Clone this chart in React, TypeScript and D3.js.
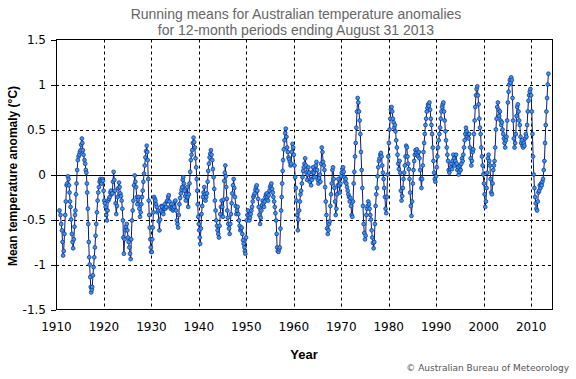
import React from "react";
import * as d3 from "d3";

// Decimal year at the end of each 12-month period (sampled read-off of the chart)
const years = [
  1910.63,1910.85,1911.0,1911.15,1911.27,1911.4,1911.52,1911.69,1911.85,1911.97,
  1912.12,1912.25,1912.4,1912.54,1912.65,1912.75,1912.86,1912.96,1913.1,1913.24,
  1913.38,1913.52,1913.66,1913.8,1913.9,1914.0,1914.12,1914.23,1914.36,1914.5,
  1914.65,1914.8,1914.92,1915.07,1915.2,1915.35,1915.45,1915.56,1915.7,1915.9,
  1916.05,1916.18,1916.3,1916.4,1916.48,1916.6,1916.7,1916.8,1916.9,1917.0,
  1917.11,1917.22,1917.32,1917.43,1917.54,1917.68,1917.82,1917.96,1918.1,1918.24,
  1918.38,1918.52,1918.66,1918.8,1918.94,1919.08,1919.23,1919.36,1919.5,1919.65,
  1919.79,1919.93,
  1920.07,1920.2,1920.35,1920.5,1920.63,1920.78,1920.92,1921.06,1921.2,1921.34,
  1921.48,1921.62,1921.76,1921.9,1922.04,1922.18,1922.32,1922.46,1922.6,1922.75,
  1922.89,1923.03,1923.17,1923.31,1923.45,1923.59,1923.73,1923.87,1924.0,1924.1,
  1924.2,1924.35,1924.5,1924.65,1924.8,1924.93,1925.07,1925.21,1925.35,1925.49,
  1925.63,1925.76,1925.9,1926.05,1926.2,1926.34,1926.48,1926.62,1926.76,1926.9,
  1927.04,1927.18,1927.32,1927.46,1927.6,1927.74,1927.88,1928.02,1928.17,1928.31,
  1928.45,1928.59,1928.73,1928.87,1929.01,1929.12,1929.22,1929.33,1929.43,1929.54,
  1929.65,1929.76,1929.86,1929.97,
  1930.07,1930.18,1930.28,1930.42,1930.56,1930.7,1930.84,1930.98,1931.13,1931.27,
  1931.41,1931.55,1931.69,1931.83,1931.97,1932.11,1932.25,1932.39,1932.53,1932.67,
  1932.82,1932.96,1933.1,1933.24,1933.38,1933.52,1933.66,1933.8,1933.94,1934.08,
  1934.23,1934.37,1934.5,1934.65,1934.8,1934.93,1935.07,1935.21,1935.35,1935.49,
  1935.63,1935.77,1935.9,1936.05,1936.2,1936.34,1936.48,1936.6,1936.7,1936.84,
  1936.97,1937.11,1937.25,1937.39,1937.53,1937.64,1937.75,1937.89,1938.03,1938.17,
  1938.3,1938.45,1938.6,1938.73,1938.87,1939.01,1939.15,1939.29,1939.43,1939.54,
  1939.65,1939.76,1939.86,1939.97,
  1940.07,1940.18,1940.28,1940.42,1940.56,1940.7,1940.85,1940.99,1941.13,1941.27,
  1941.4,1941.55,1941.7,1941.84,1941.97,1942.11,1942.25,1942.39,1942.53,1942.67,
  1942.82,1942.96,1943.1,1943.24,1943.38,1943.52,1943.66,1943.8,1943.94,1944.08,
  1944.23,1944.37,1944.5,1944.65,1944.8,1944.93,1945.07,1945.21,1945.35,1945.46,
  1945.57,1945.68,1945.78,1945.89,1945.99,1946.1,1946.2,1946.34,1946.48,1946.62,
  1946.76,1946.9,1947.04,1947.18,1947.33,1947.47,1947.61,1947.75,1947.89,1948.03,
  1948.17,1948.31,1948.45,1948.59,1948.73,1948.88,1949.02,1949.16,1949.3,1949.44,
  1949.58,1949.69,1949.79,1949.93,
  1950.07,1950.21,1950.35,1950.49,1950.63,1950.77,1950.92,1951.06,1951.2,1951.34,
  1951.48,1951.62,1951.76,1951.9,1952.04,1952.18,1952.33,1952.47,1952.61,1952.75,
  1952.89,1953.03,1953.17,1953.31,1953.45,1953.59,1953.73,1953.87,1954.01,1954.15,
  1954.3,1954.44,1954.58,1954.72,1954.86,1955.0,1955.14,1955.28,1955.42,1955.56,
  1955.7,1955.85,1955.99,1956.13,1956.27,1956.38,1956.48,1956.62,1956.76,1956.9,
  1957.04,1957.18,1957.33,1957.44,1957.54,1957.65,1957.75,1957.89,1958.03,1958.17,
  1958.31,1958.45,1958.59,1958.73,1958.88,1959.02,1959.16,1959.3,1959.44,1959.58,
  1959.72,1959.86,1960.0,
  1960.14,1960.28,1960.42,1960.56,1960.7,1960.85,1960.99,1961.13,1961.27,1961.41,
  1961.55,1961.69,1961.83,1961.97,1962.11,1962.25,1962.39,1962.53,1962.67,1962.81,
  1962.95,1963.09,1963.23,1963.37,1963.51,1963.65,1963.79,1963.93,1964.07,1964.21,
  1964.35,1964.49,1964.63,1964.77,1964.91,1965.05,1965.19,1965.33,1965.47,1965.61,
  1965.75,1965.89,1966.03,1966.17,1966.31,1966.45,1966.59,1966.73,1966.87,1967.01,
  1967.15,1967.29,1967.43,1967.57,1967.71,1967.85,1967.99,1968.13,1968.27,1968.41,
  1968.55,1968.69,1968.83,1968.97,1969.11,1969.25,1969.39,1969.53,1969.67,1969.81,
  1969.95,
  1970.09,1970.23,1970.37,1970.51,1970.65,1970.79,1970.93,1971.07,1971.21,1971.35,
  1971.49,1971.63,1971.77,1971.91,1972.05,1972.19,1972.33,1972.47,1972.61,1972.75,
  1972.89,1973.03,1973.17,1973.31,1973.45,1973.59,1973.73,1973.87,1974.01,1974.15,
  1974.29,1974.43,1974.57,1974.71,1974.85,1974.99,1975.13,1975.27,1975.41,1975.55,
  1975.69,1975.83,1975.97,1976.11,1976.25,1976.39,1976.53,1976.67,1976.81,1976.95,
  1977.09,1977.23,1977.37,1977.51,1977.65,1977.79,1977.93,1978.07,1978.21,1978.35,
  1978.49,1978.63,1978.77,1978.91,1979.05,1979.19,1979.33,1979.47,1979.61,1979.75,
  1979.89,
  1980.03,1980.17,1980.31,1980.45,1980.59,1980.73,1980.87,1981.01,1981.15,1981.29,
  1981.43,1981.57,1981.71,1981.85,1981.99,1982.13,1982.27,1982.41,1982.55,1982.69,
  1982.83,1982.97,1983.11,1983.25,1983.39,1983.53,1983.67,1983.81,1983.95,1984.09,
  1984.23,1984.37,1984.51,1984.65,1984.79,1984.93,1985.07,1985.21,1985.35,1985.49,
  1985.63,1985.77,1985.91,1986.05,1986.19,1986.33,1986.47,1986.61,1986.75,1986.89,
  1987.03,1987.17,1987.31,1987.45,1987.59,1987.73,1987.87,1988.01,1988.15,1988.29,
  1988.43,1988.57,1988.71,1988.85,1988.99,1989.13,1989.27,1989.41,1989.55,1989.69,
  1989.83,1989.97,
  1990.11,1990.25,1990.39,1990.53,1990.67,1990.81,1990.95,1991.09,1991.23,1991.37,
  1991.51,1991.65,1991.79,1991.93,1992.07,1992.21,1992.35,1992.49,1992.63,1992.77,
  1992.91,1993.05,1993.19,1993.33,1993.47,1993.61,1993.75,1993.89,1994.03,1994.17,
  1994.31,1994.45,1994.59,1994.73,1994.87,1995.01,1995.15,1995.29,1995.43,1995.57,
  1995.71,1995.85,1995.99,1996.13,1996.27,1996.41,1996.55,1996.69,1996.83,1996.97,
  1997.11,1997.25,1997.39,1997.53,1997.67,1997.81,1997.95,1998.09,1998.23,1998.37,
  1998.51,1998.65,1998.79,1998.93,1999.07,1999.21,1999.35,1999.49,1999.63,1999.77,
  1999.91,
  2000.05,2000.19,2000.33,2000.47,2000.61,2000.75,2000.89,2001.03,2001.17,2001.31,
  2001.45,2001.59,2001.73,2001.87,2002.01,2002.15,2002.29,2002.43,2002.57,2002.71,
  2002.85,2002.99,2003.13,2003.27,2003.41,2003.55,2003.69,2003.83,2003.97,2004.11,
  2004.25,2004.39,2004.53,2004.67,2004.81,2004.95,2005.09,2005.23,2005.37,2005.51,
  2005.65,2005.79,2005.93,2006.07,2006.21,2006.35,2006.49,2006.63,2006.77,2006.91,
  2007.05,2007.19,2007.33,2007.47,2007.61,2007.75,2007.89,2008.03,2008.17,2008.31,
  2008.45,2008.59,2008.73,2008.87,2009.01,2009.15,2009.29,2009.43,2009.57,2009.71,
  2009.85,2009.99,2010.13,2010.27,2010.41,2010.55,2010.69,2010.83,2010.97,2011.11,
  2011.25,2011.39,2011.53,2011.67,2011.81,2011.95,2012.09,2012.23,2012.37,2012.51,
  2012.65,2012.79,2012.93,2013.07,2013.21,2013.35,2013.49,2013.63,
];

// Mean temperature anomaly (°C) for each period above
const anomalies = [
  -0.40,-0.45,-0.55,-0.62,-0.75,-0.90,-0.85,-0.66,-0.45,-0.30,
  -0.12,-0.10,-0.02,-0.05,-0.12,-0.20,-0.30,-0.36,-0.50,-0.66,
  -0.75,-0.82,-0.72,-0.58,-0.45,-0.40,-0.22,-0.10,0.05,0.16,
  0.20,0.22,0.25,0.27,0.33,0.40,0.35,0.27,0.22,0.16,
  0.12,0.05,0.02,-0.10,-0.20,-0.38,-0.55,-0.75,-0.92,-1.00,
  -1.14,-1.25,-1.31,-1.28,-1.25,-1.12,-1.03,-0.92,-0.81,-0.68,
  -0.55,-0.42,-0.29,-0.20,-0.14,-0.08,-0.05,-0.07,-0.10,-0.05,
  -0.07,-0.18,
  -0.29,-0.32,-0.36,-0.45,-0.51,-0.40,-0.29,-0.27,-0.25,-0.20,
  -0.18,-0.22,-0.21,-0.08,0.03,-0.06,-0.18,-0.32,-0.44,-0.35,
  -0.25,-0.15,-0.09,-0.14,-0.21,-0.24,-0.29,-0.38,-0.51,-0.70,
  -0.88,-0.72,-0.62,-0.58,-0.55,-0.62,-0.70,-0.75,-0.81,-0.88,
  -0.94,-0.72,-0.51,-0.40,-0.29,-0.12,-0.01,-0.08,-0.14,-0.25,
  -0.33,-0.28,-0.25,-0.38,-0.47,-0.42,-0.33,-0.25,-0.18,-0.08,
  0.01,0.10,0.19,0.26,0.32,0.25,0.16,-0.05,-0.29,-0.45,
  -0.59,-0.72,-0.81,-0.86,
  -0.86,-0.72,-0.59,-0.42,-0.25,-0.27,-0.29,-0.33,-0.36,-0.42,
  -0.40,-0.52,-0.62,-0.50,-0.40,-0.35,-0.36,-0.42,-0.44,-0.38,
  -0.33,-0.38,-0.36,-0.30,-0.29,-0.25,-0.23,-0.30,-0.36,-0.38,
  -0.33,-0.37,-0.40,-0.38,-0.36,-0.30,-0.29,-0.40,-0.51,-0.55,
  -0.59,-0.45,-0.33,-0.26,-0.21,-0.17,-0.14,-0.06,-0.03,-0.10,
  -0.18,-0.24,-0.29,-0.22,-0.14,-0.25,-0.36,-0.22,-0.10,0.03,
  0.16,0.22,0.27,0.35,0.41,0.36,0.30,0.18,0.08,-0.05,
  -0.18,-0.33,-0.47,-0.55,
  -0.62,-0.70,-0.77,-0.60,-0.44,-0.35,-0.25,-0.20,-0.14,-0.22,
  -0.29,-0.25,-0.21,-0.08,0.04,0.12,0.19,0.23,0.27,0.22,
  0.16,0.06,-0.03,-0.16,-0.29,-0.40,-0.51,-0.57,-0.62,-0.66,
  -0.70,-0.57,-0.44,-0.36,-0.29,-0.36,-0.47,-0.28,-0.07,0.02,
  0.10,-0.02,-0.14,-0.27,-0.40,-0.48,-0.55,-0.60,-0.66,-0.55,
  -0.44,-0.32,-0.21,-0.12,-0.05,-0.15,-0.25,-0.35,-0.44,-0.40,
  -0.36,-0.44,-0.51,-0.57,-0.62,-0.60,-0.59,-0.66,-0.73,-0.77,
  -0.81,-0.85,-0.88,-0.70,
  -0.51,-0.45,-0.40,-0.46,-0.51,-0.48,-0.44,-0.40,-0.36,-0.30,
  -0.25,-0.23,-0.21,-0.17,-0.14,-0.12,-0.18,-0.27,-0.36,-0.45,
  -0.55,-0.48,-0.40,-0.34,-0.29,-0.32,-0.36,-0.30,-0.25,-0.22,
  -0.21,-0.25,-0.29,-0.23,-0.18,-0.14,-0.12,-0.10,-0.16,-0.20,
  -0.25,-0.30,-0.36,-0.43,-0.51,-0.66,-0.81,-0.85,-0.86,-0.83,
  -0.81,-0.60,-0.40,-0.25,-0.10,0.04,0.16,0.28,0.38,0.46,
  0.51,0.42,0.30,0.25,0.19,0.17,0.14,0.10,0.12,0.25,
  0.34,0.30,0.22,
  0.10,-0.03,-0.15,-0.29,-0.45,-0.62,-0.50,-0.40,-0.30,-0.22,
  -0.18,-0.10,-0.03,0.04,0.08,0.12,0.18,0.10,0.02,-0.06,
  0.00,0.08,0.02,-0.08,-0.05,-0.12,-0.06,0.03,0.08,0.02,
  -0.03,0.05,0.10,0.14,0.05,-0.06,-0.10,-0.04,0.00,-0.08,
  0.12,0.30,0.25,0.14,0.10,0.05,-0.14,-0.30,-0.45,-0.60,
  -0.66,-0.62,-0.55,-0.52,-0.35,-0.22,-0.10,0.05,0.08,-0.05,
  -0.15,-0.30,-0.45,-0.38,-0.22,-0.12,-0.05,-0.12,-0.20,-0.10,
  -0.02,
  0.02,0.06,0.08,0.03,-0.03,-0.08,-0.05,-0.10,-0.14,-0.18,
  -0.22,-0.25,-0.30,-0.26,-0.35,-0.45,-0.47,-0.30,-0.10,0.03,
  0.20,0.35,0.52,0.70,0.85,0.80,0.70,0.60,0.45,0.25,
  0.05,-0.15,-0.35,-0.55,-0.65,-0.72,-0.68,-0.45,-0.38,-0.35,
  -0.30,-0.33,-0.38,-0.45,-0.50,-0.62,-0.70,-0.76,-0.82,-0.75,
  -0.55,-0.35,-0.22,-0.15,-0.02,0.08,0.15,0.18,0.22,0.24,
  0.20,0.10,0.02,-0.05,-0.15,-0.25,-0.38,-0.43,-0.25,0.00,
  0.20,
  0.35,0.50,0.62,0.72,0.75,0.70,0.62,0.58,0.52,0.55,
  0.48,0.38,0.30,0.22,0.12,0.06,0.15,0.02,-0.18,-0.29,
  -0.24,-0.15,-0.05,0.02,0.10,0.20,0.32,0.30,0.20,0.12,
  0.06,-0.05,-0.20,-0.35,-0.46,-0.30,-0.10,0.05,0.15,0.22,
  0.27,0.24,0.28,0.22,0.20,0.25,0.18,0.05,-0.05,-0.15,
  -0.05,0.10,0.25,0.35,0.45,0.55,0.62,0.70,0.74,0.78,
  0.76,0.80,0.72,0.62,0.55,0.45,0.30,0.15,0.02,-0.05,
  -0.08,-0.02,
  0.08,0.20,0.30,0.38,0.45,0.52,0.62,0.70,0.75,0.78,
  0.80,0.70,0.60,0.48,0.38,0.30,0.22,0.15,0.05,0.02,
  0.06,0.08,0.12,0.06,0.15,0.22,0.18,0.10,0.15,0.22,
  0.12,0.05,0.08,0.00,0.03,0.10,0.05,0.12,0.18,0.15,
  0.22,0.30,0.38,0.45,0.52,0.48,0.42,0.45,0.40,0.45,
  0.30,0.18,0.10,0.15,0.25,0.28,0.45,0.60,0.75,0.88,
  0.95,0.98,0.88,0.78,0.62,0.52,0.45,0.30,0.20,0.10,
  0.00,
  -0.10,-0.22,-0.36,-0.30,-0.15,0.02,0.18,0.22,0.15,0.10,
  -0.05,-0.20,-0.22,-0.10,0.05,0.10,0.15,0.30,0.50,0.62,
  0.75,0.80,0.72,0.65,0.70,0.60,0.55,0.58,0.50,0.45,
  0.40,0.35,0.30,0.38,0.42,0.60,0.80,0.92,1.00,1.05,
  1.02,1.08,1.05,0.85,0.60,0.40,0.30,0.35,0.45,0.65,
  0.75,0.78,0.70,0.60,0.55,0.42,0.35,0.38,0.32,0.30,
  0.35,0.32,0.40,0.45,0.42,0.55,0.70,0.82,0.88,0.92,
  0.95,0.88,0.70,0.45,0.20,0.00,-0.15,-0.25,-0.32,-0.38,
  -0.40,-0.30,-0.20,-0.18,-0.12,-0.15,-0.10,-0.12,-0.08,-0.05,
  0.05,0.15,0.35,0.55,0.70,0.85,1.00,1.12,
];

const yTicks = [-1.5, -1, -0.5, 0, 0.5, 1, 1.5];
const xTicks = [1910, 1920, 1930, 1940, 1950, 1960, 1970, 1980, 1990, 2000, 2010];
const titleLines = [
  "Running means for Australian temperature anomalies",
  "for 12-month periods ending August 31 2013",
];
const xTitle = "Year";
const yTitle = "Mean temperature anomaly (°C)";
const credit = "© Australian Bureau of Meteorology";

export default function App() {
  const W = 576, H = 379;
  const x = d3.scaleLinear().domain([1909.9, 2014.6]).range([56, 553]);
  const y = d3.scaleLinear().domain([-1.5, 1.5]).range([309.5, 39.5]);
  const [x0, x1] = x.range();
  const [yb, yt] = y.range();

  const pts = years.map((yr, i) => [yr, anomalies[i]] as [number, number]);
  const line = d3.line<[number, number]>().x(d => x(d[0])).y(d => y(d[1]));

  const sans = "'Liberation Sans', Arial, sans-serif";
  const dv = "'DejaVu Sans', Verdana, sans-serif";

  return (
    <svg width={W} height={H} viewBox={`0 0 ${W} ${H}`}
      style={{ position: "absolute", left: 0, top: 0, background: "#fff" }}>
      <rect x={0} y={0} width={W} height={H} fill="#fff" />
      {titleLines.map((t, i) => (
        <text key={t} x={296} y={19 + i * 16} textAnchor="middle" fontFamily={sans}
          fontSize={14} fill="#666">{t}</text>
      ))}
      {/* grid */}
      {yTicks.filter(v => v !== 0 && Math.abs(v) !== 1.5).map(v => (
        <line key={"gy" + v} x1={x0} x2={x1} y1={Math.round(y(v)) + 0.5} y2={Math.round(y(v)) + 0.5}
          stroke="#000" strokeWidth={1} strokeDasharray="3,3" />
      ))}
      {xTicks.filter(t => t !== 1910).map(t => (
        <line key={"gx" + t} x1={Math.round(x(t)) + 0.5} x2={Math.round(x(t)) + 0.5} y1={yt} y2={yb}
          stroke="#000" strokeWidth={1} strokeDasharray="3,3" />
      ))}
      <line x1={x0} x2={x1} y1={Math.round(y(0)) + 0.5} y2={Math.round(y(0)) + 0.5} stroke="#000" strokeWidth={1} />
      {/* y ticks */}
      {yTicks.map(v => (
        <g key={"ty" + v}>
          <line x1={x0 - 5} x2={x0} y1={Math.round(y(v)) + 0.5} y2={Math.round(y(v)) + 0.5} stroke="#000" />
          <text x={46} y={y(v) + 4.5} textAnchor="end" fontFamily={dv} fontSize={12} fill="#000">{v}</text>
        </g>
      ))}
      {xTicks.map(t => (
        <text key={"tx" + t} x={x(t)} y={331} textAnchor="middle" fontFamily={dv} fontSize={12} fill="#000">{t}</text>
      ))}
      {/* series */}
      <path d={line(pts) || ""} fill="none" stroke="#0a1a70" strokeWidth={1} />
      {pts.map((p, i) => (
        <circle key={i} cx={x(p[0])} cy={y(p[1])} r={1.9} fill="#3a9ae8" stroke="#16309a" strokeWidth={0.75} />
      ))}
      {/* frame */}
      <rect x={x0 + 0.5} y={yt} width={x1 - x0 - 1} height={yb - yt} fill="none" stroke="#000" strokeWidth={1} />
      <text x={304} y={359} textAnchor="middle" fontFamily={sans} fontWeight="bold" fontSize={13} fill="#000">{xTitle}</text>
      <text transform={`translate(17,176) rotate(-90)`} textAnchor="middle" fontFamily={sans}
        fontWeight="bold" fontSize={12} fill="#000">{yTitle}</text>
      <text x={569} y={371} textAnchor="end" fontFamily={dv} fontSize={9} fill="#555">{credit}</text>
    </svg>
  );
}
